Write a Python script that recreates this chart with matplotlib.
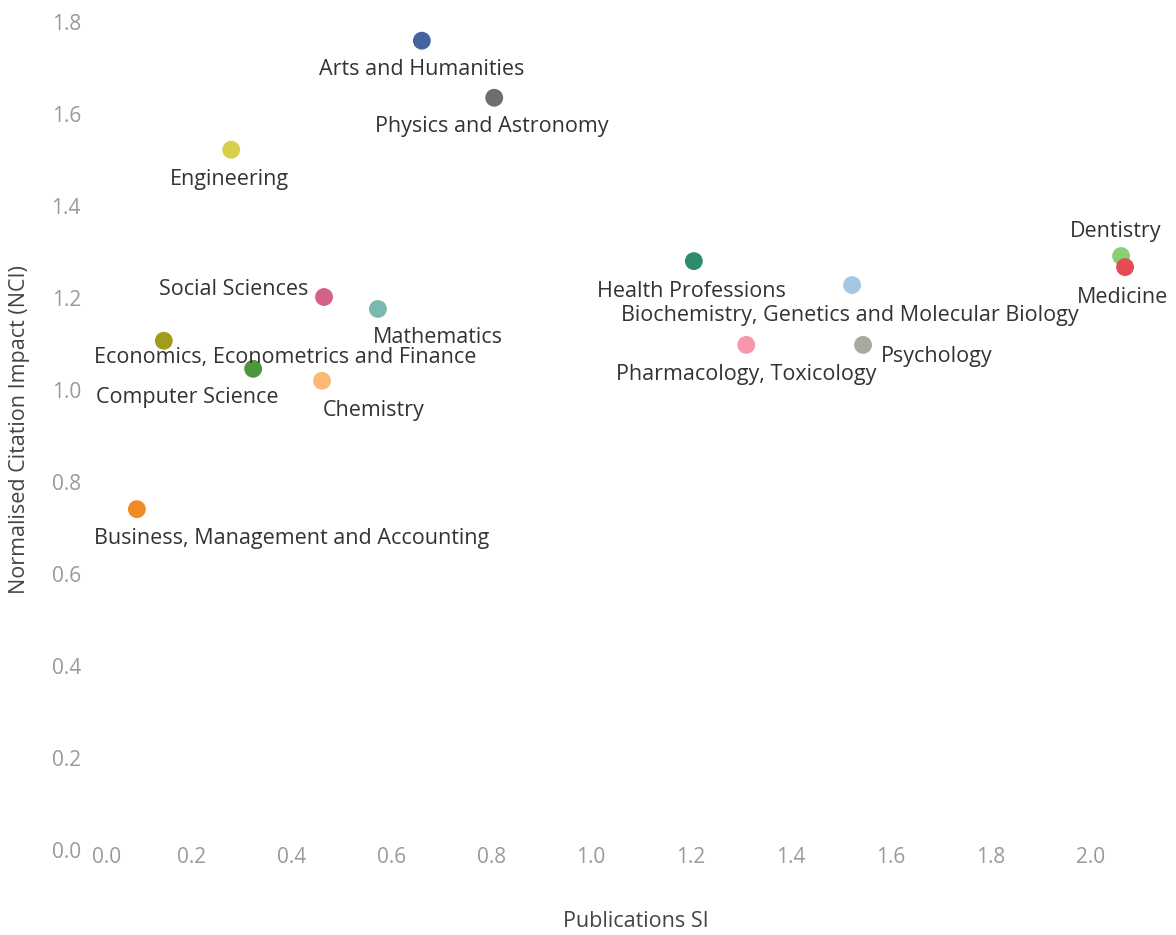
import matplotlib.pyplot as plt

plt.rcParams['font.family'] = ['Open Sans', 'DejaVu Sans']

## data
subjects = ['Arts and Humanities', 'Physics and Astronomy', 'Engineering',
            'Social Sciences', 'Mathematics', 'Economics, Econometrics and Finance',
            'Computer Science', 'Chemistry', 'Business, Management and Accounting',
            'Health Professions', 'Biochemistry, Genetics and Molecular Biology',
            'Pharmacology, Toxicology', 'Psychology', 'Dentistry', 'Medicine']
pub_si = [0.661, 0.806, 0.279, 0.465, 0.573, 0.144, 0.323, 0.461, 0.090,
          1.206, 1.523, 1.311, 1.545, 2.062, 2.070]
nci = [1.759, 1.635, 1.522, 1.202, 1.176, 1.107, 1.046, 1.020, 0.741,
       1.280, 1.228, 1.098, 1.098, 1.291, 1.267]

colors = ['#43649e', '#6e6e6e', '#d5cf4c', '#d3628b', '#7ab8b0', '#a09c1c',
          '#4c963f', '#fbb877', '#f08a26', '#2f8b6d', '#a6c7e2', '#f797ab',
          '#a9a8a2', '#86cf73', '#e44c55']

# label placement: offset of the text anchor from the dot, in pixels (right, down)
offsets = [(0, 29, 'center'), (-2, 29, 'center'), (-2, 30, 'center'),
           (-16, -8, 'right'), (-5, 29, 'left'), (-70, 17, 'left'),
           (-157, 29, 'left'), (1, 30, 'left'), (-43, 29, 'left'),
           (-2, 30, 'center'), (-2, 30, 'center'), (0, 30, 'center'),
           (18, 12, 'left'), (-5, -25, 'center'), (-3, 30, 'center')]

fig = plt.figure(figsize=(11.76, 9.35), dpi=100)
# axes box in pixels: left 67, right 1165, top 8, bottom 864
ax = fig.add_axes([67 / 1176, 1 - 864 / 935, (1165 - 67) / 1176, (864 - 8) / 935])

ax.scatter(pub_si, nci, s=165, c=colors, edgecolors='none', zorder=3)

for name, x, y, (dx, dy, ha) in zip(subjects, pub_si, nci, offsets):
    ax.annotate(name, (x, y), xytext=(dx * 0.72, -dy * 0.72), textcoords='offset points',
                ha=ha, va='center', fontsize=15.5, color='#333333')

ax.set_xlim(-0.05, 2.15)
ax.set_ylim(-0.03, 1.83)
ax.set_xticks([0.0, 0.2, 0.4, 0.6, 0.8, 1.0, 1.2, 1.4, 1.6, 1.8, 2.0])
ax.set_yticks([0.0, 0.2, 0.4, 0.6, 0.8, 1.0, 1.2, 1.4, 1.6, 1.8])
ax.xaxis.set_major_formatter(plt.FormatStrFormatter('%.1f'))
ax.yaxis.set_major_formatter(plt.FormatStrFormatter('%.1f'))
ax.tick_params(length=0, labelsize=15, labelcolor='#9a9a9a')
ax.tick_params(axis='x', pad=-12)
ax.tick_params(axis='y', pad=-10)
ax.get_xticklabels()[0].set_ha('left')
for sp in ax.spines.values():
    sp.set_visible(False)

ax.set_xlabel('Publications SI', fontsize=15.5, color='#444444')
ax.xaxis.set_label_coords(0.518, -0.055)
ax.set_ylabel('Normalised Citation Impact (NCI)', fontsize=15.5, color='#444444')
ax.yaxis.set_label_coords(-0.034, 0.507)

fig.savefig('out.png', dpi=100)
